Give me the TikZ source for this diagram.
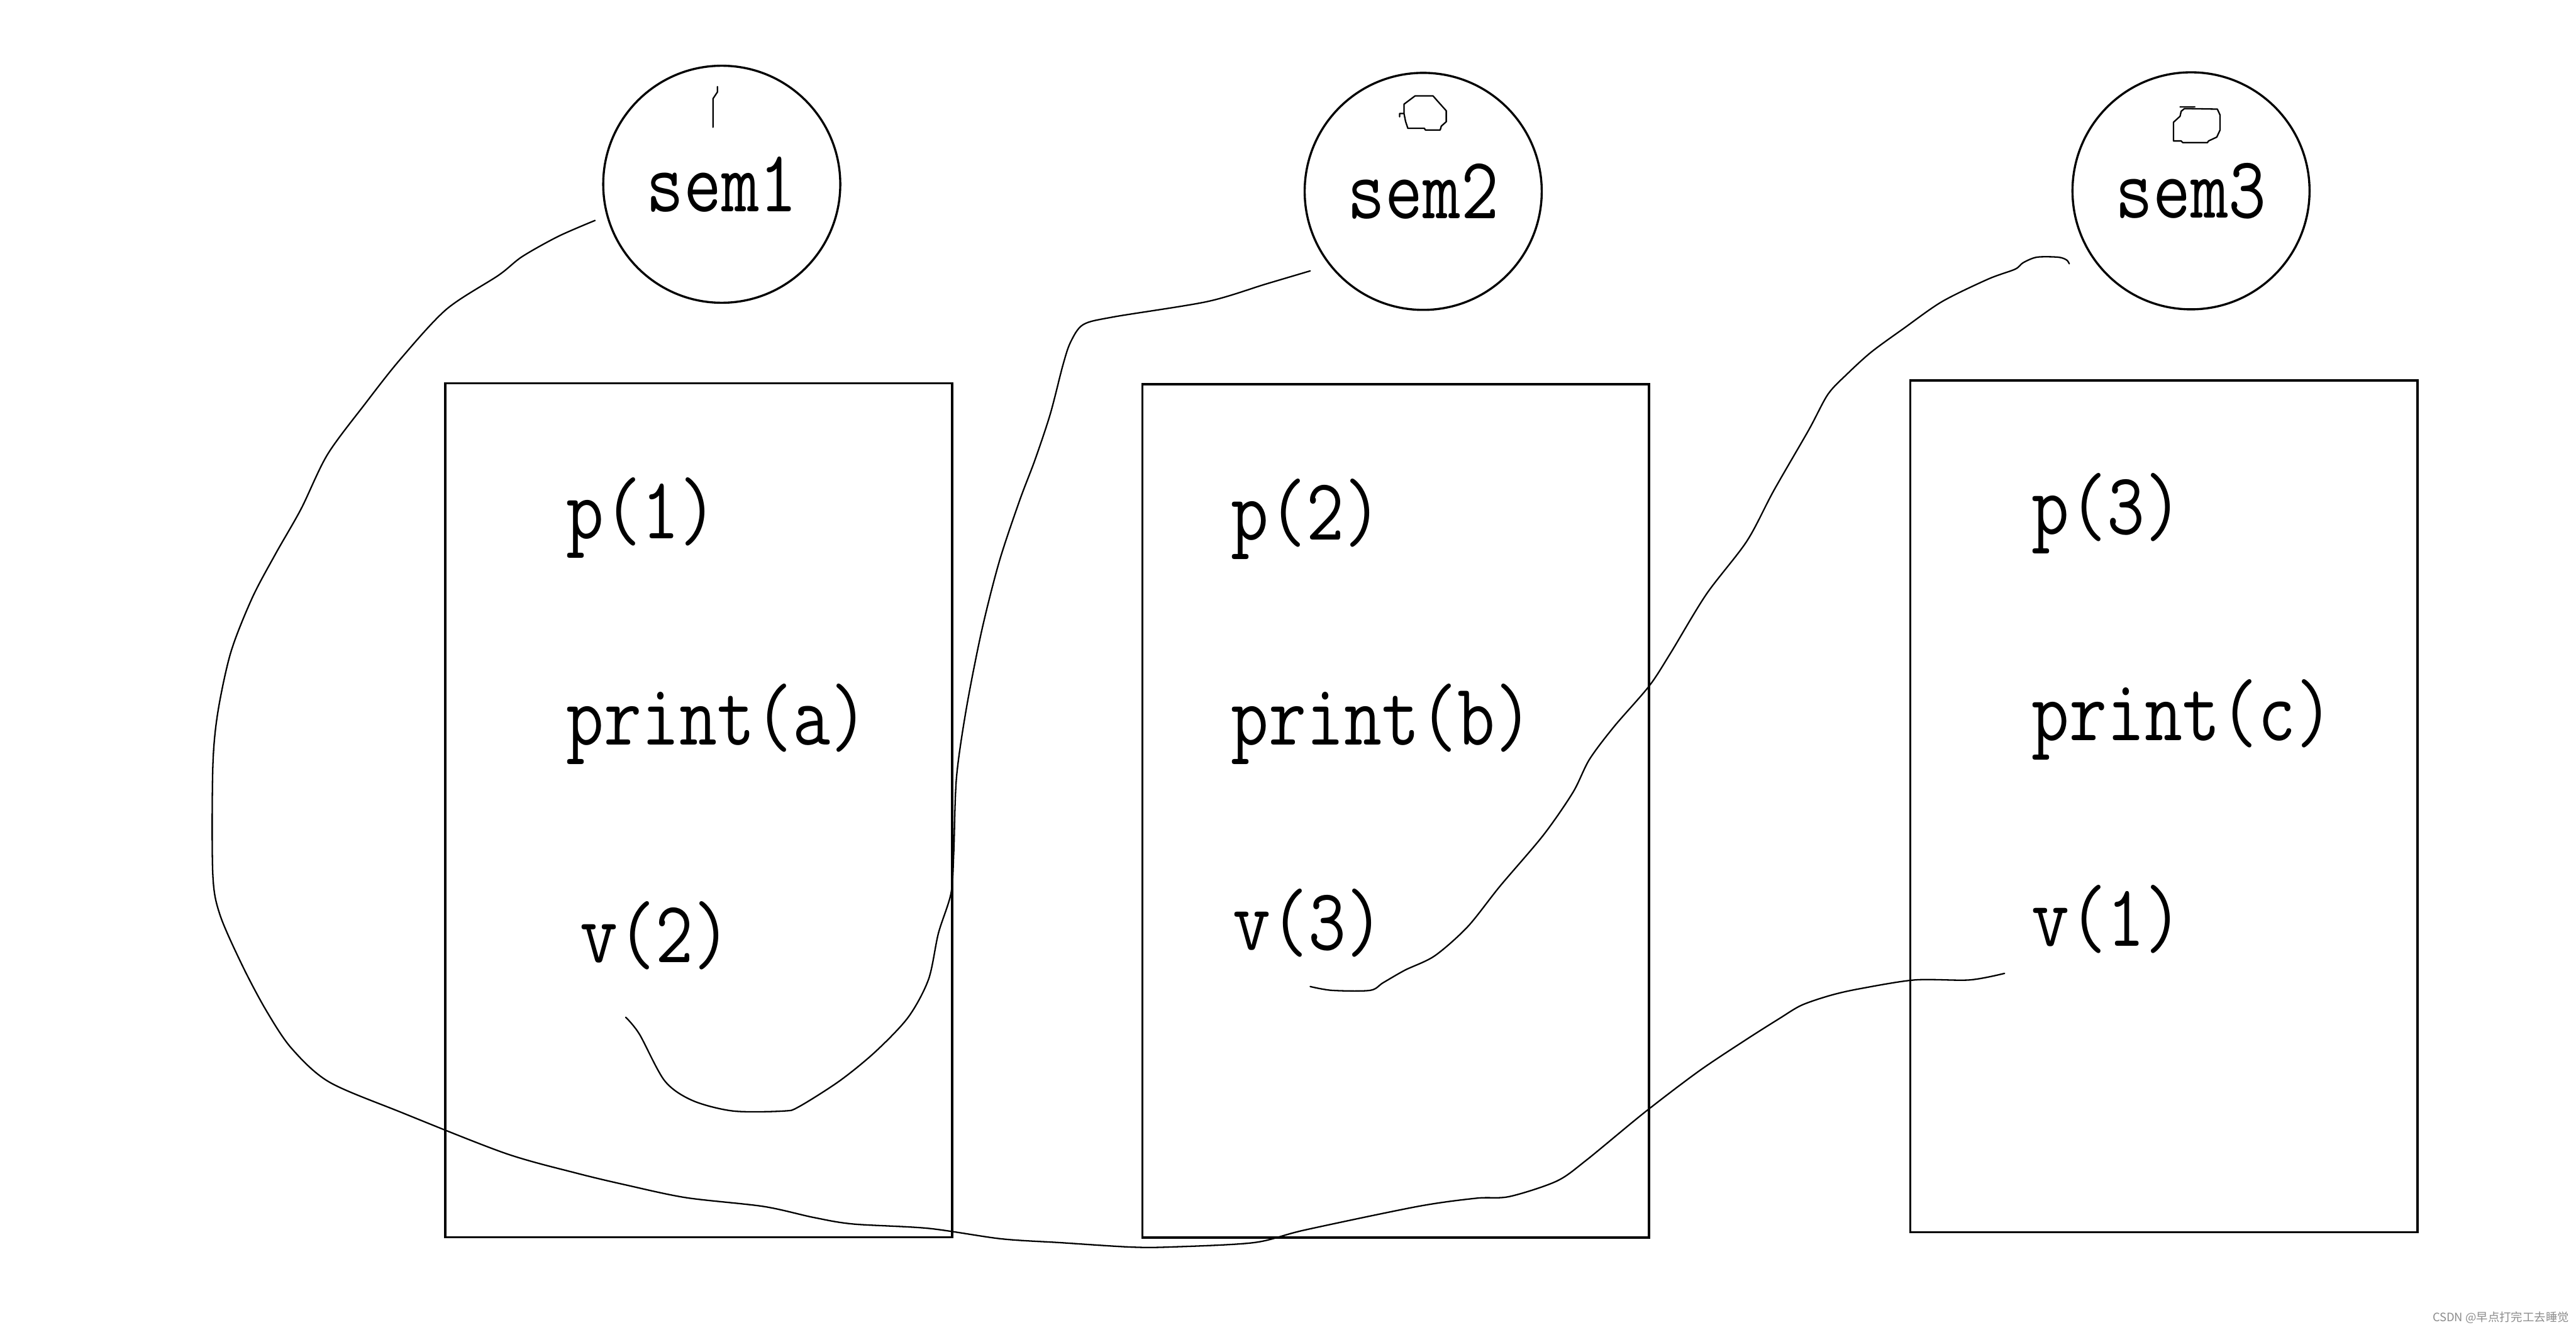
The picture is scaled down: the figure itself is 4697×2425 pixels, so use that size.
\documentclass[tikz,border=0pt]{standalone}
\usepackage{fontspec}
\usepackage{graphicx}
\usepackage{tikz}
\newfontfamily\cjk{Noto Sans CJK SC}
\newcommand{\codetxt}[1]{\scalebox{1}[1.2]{#1}}

\begin{document}
\begin{tikzpicture}[x=0.01cm, y=-0.01cm,
    semnode/.style={draw, circle, line width=1.1pt, minimum size=4.32cm, inner sep=0pt,
      font=\fontsize{38}{44}\selectfont\ttfamily},
    codeline/.style={anchor=base west, inner sep=0pt, font=\fontsize{38}{44}\selectfont\ttfamily},
    procbox/.style={line width=1.2pt},
    wire/.style={line width=0.75pt, line join=round, line cap=round}]
    \useasboundingbox (0,0) rectangle (4697,2425);

    \node[semnode] (sem1) at (1316,336) {\codetxt{sem1}};
    \node[semnode] (sem2) at (2595,349) {\codetxt{sem2}};
    \node[semnode] (sem3) at (3995,348) {\codetxt{sem3}};

    \draw[wire] (1300,232) -- (1300,180) -- (1308,168) -- (1308,158);
    \draw[wire] (2552,213) -- (2552,207) -- (2560,207) -- (2560,190) -- (2580,175) -- (2613,175)
      -- (2620,183) -- (2637,202) -- (2637,222) -- (2628,230) -- (2626,237) -- (2599,237)
      -- (2597,234) -- (2567,234) -- (2563,222) -- (2560,207);
    \draw[wire] (3975,195) -- (4002,195);
    \draw[wire] (3983,198) -- (4043,199) -- (4048,210) -- (4048,237) -- (4042,250) -- (4027,257)
      -- (4025,260) -- (3980,260) -- (3977,257) -- (3963,257) -- (3963,223) -- (3975,212)
      -- (3977,203) -- cycle;

    \draw[procbox] (812,699) rectangle (1736,2256);
    \draw[procbox] (2083,701) rectangle (3007,2257);
    \draw[procbox] (3483,694) rectangle (4408,2247);

    \node[codeline] (p1) at (1032,982) {\codetxt{p(1)}};
    \node[codeline] (pa) at (1032,1358) {\codetxt{print(a)}};
    \node[codeline] (v2) at (1057,1755) {\codetxt{v(2)}};
    \node[codeline] (p2) at (2244,984) {\codetxt{p(2)}};
    \node[codeline] (pb) at (2244,1358) {\codetxt{print(b)}};
    \node[codeline] (v3) at (2247,1732) {\codetxt{v(3)}};
    \node[codeline] (p3) at (3704,974) {\codetxt{p(3)}};
    \node[codeline] (pc) at (3704,1350) {\codetxt{print(c)}};
    \node[codeline] (v1) at (3704,1725) {\codetxt{v(1)}};

    \coordinate (s1) at (1085,402);
    \coordinate (e1) at (3655,1775);
    \coordinate (s2) at (2389,494);
    \coordinate (e2) at (1141,1855);
    \coordinate (s3) at (3773,481);
    \coordinate (e3) at (2389,1799);

    \draw[wire] plot[smooth, tension=0.5] coordinates {(s1) (1018,431) (952,468) (909,502)
      (814,564) (730,655) (666,736) (597,829) (549,928) (503,1009) (460,1090) (421,1189)
      (397,1300) (388,1400) (388,1594) (401,1668) (442,1761) (485,1842) (531,1911)
      (600,1973) (733,2029) (921,2103) (1050,2139) (1142,2161) (1251,2184) (1392,2200)
      (1483,2220) (1555,2232) (1693,2240) (1825,2259) (1933,2266) (2060,2274) (2133,2274)
      (2286,2266) (2379,2243) (2585,2200) (2692,2185) (2752,2182) (2838,2154) (2892,2116)
      (2998,2029) (3098,1953) (3185,1895) (3245,1857) (3285,1833) (3338,1815) (3391,1803)
      (3491,1787) (3591,1787) (e1)};
    \draw[wire] plot[smooth, tension=0.5] coordinates {(s2) (2308,518) (2201,550) (2030,578)
      (1975,592) (1952,624) (1938,666) (1915,755) (1887,839) (1859,913) (1822,1024)
      (1790,1150) (1762,1292) (1744,1418) (1739,1555) (1734,1629) (1711,1702) (1693,1786)
      (1656,1855) (1596,1918) (1531,1971) (1457,2018) (1429,2026) (1337,2026) (1263,2007)
      (1212,1971) (1166,1886) (e2)};
    \draw[wire] plot[smooth, tension=0.5] coordinates {(s3) (3768,474) (3753,469) (3714,469)
      (3689,479) (3674,491) (3625,509) (3541,550) (3471,599) (3412,642) (3368,682)
      (3333,719) (3298,784) (3234,895) (3185,987) (3111,1084) (3046,1191) (3007,1251)
      (2943,1325) (2898,1385) (2868,1445) (2814,1523) (2735,1616) (2676,1690) (2616,1743)
      (2562,1769) (2522,1792) (2498,1806) (2429,1806) (e3)};

    \node[anchor=east, inner sep=0pt, text=black!45, font=\fontsize{6}{7}\selectfont\cjk] (mark)
      at (4685,2403) {CSDN @早点打完工去睡觉};
  \end{tikzpicture}
\end{document}
